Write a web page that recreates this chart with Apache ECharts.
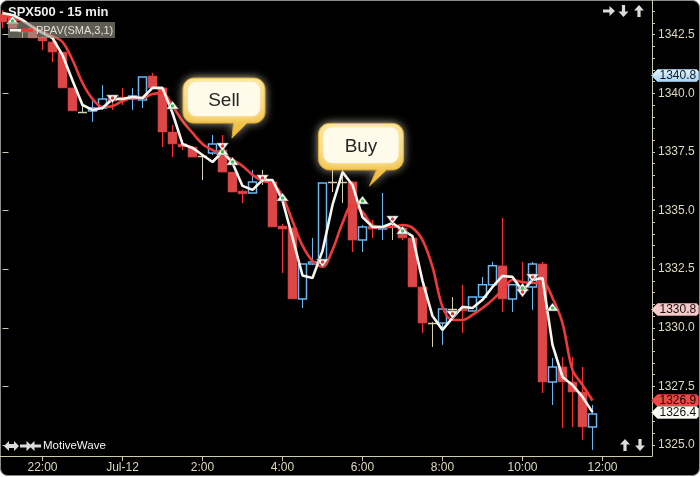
<!DOCTYPE html>
<html><head><meta charset="utf-8">
<script src="https://cdn.jsdelivr.net/npm/echarts@6/dist/echarts.min.js"></script>
<style>html,body{margin:0;padding:0;background:#fff}#main{width:700px;height:477px}</style>
</head><body><div id="main"></div>
<script>
// ---------- DATA ----------
const times = ['21:00','21:15','21:30','21:45','22:00','22:15','22:30','22:45','23:00','23:15','23:30','23:45',
 '00:00','00:15','00:30','00:45','01:00','01:15','01:30','01:45','02:00','02:15','02:30','02:45',
 '03:00','03:15','03:30','03:45','04:00','04:15','04:30','04:45','05:00','05:15','05:30','05:45',
 '06:00','06:15','06:30','06:45','07:00','07:15','07:30','07:45','08:00','08:15','08:30','08:45',
 '09:00','09:15','09:30','09:45','10:00','10:15','10:30','10:45','11:00','11:15','11:30','11:45'];
const opens = [1343.38,1343.30,1342.66,1342.78,1342.40,1342.19,1341.76,1340.23,1339.20,1339.25,1339.37,1339.80,
 1339.84,1339.76,1339.71,1340.74,1340.23,1338.35,1337.84,1337.71,1337.33,1337.45,1337.58,1336.64,
 1335.83,1335.75,1336.39,1336.22,1334.34,1334.26,1331.23,1332.72,1332.76,1336.22,1336.22,1336.22,
 1333.74,1334.34,1334.21,1334.34,1334.26,1333.83,1331.74,1330.20,1330.20,1330.80,1330.80,1330.72,
 1331.31,1331.83,1332.64,1331.23,1331.74,1331.74,1332.72,1327.69,1328.33,1327.69,1327.26,1325.77];
const closes = [1343.04,1342.78,1342.66,1342.36,1342.23,1341.76,1340.23,1339.25,1339.20,1339.37,1339.76,1339.67,
 1339.71,1339.88,1340.70,1340.23,1338.35,1337.84,1337.71,1337.28,1337.33,1337.84,1336.64,1335.79,
 1335.71,1336.22,1336.39,1334.30,1334.21,1331.23,1332.72,1332.81,1336.17,1336.22,1336.22,1333.74,
 1334.30,1334.21,1334.30,1334.34,1333.83,1331.74,1330.20,1330.20,1330.80,1330.80,1330.72,1331.31,
 1331.83,1332.64,1331.23,1331.83,1331.66,1332.72,1327.69,1328.33,1327.69,1327.26,1325.77,1326.32];
const lows = [1342.78,1342.70,1342.36,1342.36,1341.85,1341.33,1340.23,1339.25,1339.16,1338.78,1339.29,1339.29,
 1339.50,1339.29,1339.37,1340.18,1337.71,1337.28,1337.58,1337.28,1336.30,1337.37,1336.64,1335.79,
 1335.32,1335.75,1336.09,1334.30,1332.34,1331.23,1330.84,1332.68,1332.68,1335.79,1335.32,1333.23,
 1333.23,1333.83,1333.74,1333.74,1333.74,1331.74,1329.78,1329.18,1329.27,1330.33,1329.78,1330.72,
 1331.27,1331.78,1330.67,1330.67,1331.31,1330.76,1327.22,1326.71,1325.73,1325.77,1325.22,1324.79];
const highs = [1343.55,1343.38,1342.74,1342.83,1342.44,1342.23,1341.76,1340.23,1339.50,1339.71,1340.35,1339.88,
 1340.23,1340.23,1340.70,1340.87,1340.23,1338.65,1338.01,1337.75,1337.41,1338.22,1338.22,1336.64,
 1335.88,1336.73,1336.73,1336.30,1334.43,1334.26,1332.72,1333.83,1336.17,1336.73,1336.73,1336.26,
 1334.38,1334.60,1335.75,1334.68,1334.30,1333.83,1331.78,1330.25,1330.80,1331.31,1331.83,1331.31,
 1332.17,1332.81,1334.68,1331.87,1332.81,1332.81,1332.81,1328.71,1328.75,1328.75,1328.33,1326.71];
// PPAV fast (white) and slow (red) lines
const fastLine = [1343.42,1343.34,1343.13,1342.83,1342.57,1342.36,1341.63,1340.55,1339.50,1339.29,
 1339.37,1339.76,1339.76,1339.84,1339.80,1340.23,1340.23,1339.16,1337.84,1337.67,
 1337.37,1337.07,1337.50,1337.03,1336.05,1335.88,1336.30,1336.30,1335.42,1333.85,
 1332.23,1332.12,1333.28,1335.24,1336.64,1336.09,1334.72,1334.30,1334.30,1334.47,
 1334.17,1333.91,1332.00,1330.50,1329.91,1330.42,1330.89,1330.84,1331.19,1331.74,
 1332.21,1332.17,1331.57,1332.04,1332.12,1329.27,1327.90,1327.56,1327.05,1326.40];
const slowLine = [1343.34,1343.21,1343.08,1342.83,1342.61,1342.44,1342.19,1341.42,1340.44,1339.76,
 1339.42,1339.46,1339.67,1339.80,1339.80,1339.97,1340.01,1339.46,1338.82,1338.31,
 1337.84,1337.58,1337.41,1337.16,1336.90,1336.52,1336.26,1336.17,1335.60,1334.55,
 1333.50,1332.85,1332.60,1333.32,1334.47,1335.24,1334.94,1334.38,1334.30,1334.30,
 1334.38,1334.26,1333.74,1332.60,1330.89,1330.33,1330.33,1330.55,1330.84,1331.19,
 1331.61,1332.04,1331.95,1331.91,1331.95,1331.27,1330.20,1328.20,1327.56,1326.90];
// signal markers: [bar index, price]
const upSignals = [[1,1343.13],[17,1339.50],[22,1337.54],[23,1337.11],[28,1335.58],[36,1335.45],[40,1334.17],[52,1331.74],[55,1330.89]];
const downSignals = [[11,1339.76],[22,1337.71],[26,1336.35],[32,1332.76],[39,1334.60],[45,1330.55],[52,1331.48],[53,1332.12]];
// callouts: text, bar index of tip, price of tip
const calloutTexts = ['Sell','Buy'];
const calloutBars = [22.95, 36.7];
const calloutPrices = [1338.09, 1336.05];
// axis labels
const tickTimes = ['22:00','00:00','02:00','04:00','06:00','08:00','10:00','12:00'];
const tickLabels = ['22:00','Jul-12','2:00','4:00','6:00','8:00','10:00','12:00'];
const yLabels = [1325.0,1327.5,1330.0,1332.5,1335.0,1337.5,1340.0,1342.5];
const priceTags = [1340.8,1330.8,1326.9,1326.4];

// ---------- HELPERS ----------
const FONT = '"Liberation Sans", Arial, sans-serif';
const AXC = '#cfc9ab', LBC = '#ddd8bc';
const toMin = t => { const [h,m] = t.split(':').map(Number); return h*60+m; };
const barOf = t => ((toMin(t) - toMin(times[0]) + 1440) % 1440) / 15;
const tickBars = tickTimes.map(barOf);
const xMin = -0.25, xMax = 64.95, yMin = 1324.53, yMax = 1343.98;
const minorTicks = []; for (let v = 1325; v <= 1343.5; v += 0.5) minorTicks.push(+v.toFixed(1));
const candleData = times.map((t,i) => [i, opens[i], closes[i], lows[i], highs[i]]);

function renderCandle(params, api) {
  const k = api.value(0), o = api.value(1), c = api.value(2), lo = api.value(3), hi = api.value(4);
  const pO = api.coord([k,o]), pC = api.coord([k,c]);
  const yL = api.coord([k,lo])[1], yH = api.coord([k,hi])[1];
  const cx = Math.floor(pO[0]) + 0.5;
  const yT = Math.min(pO[1],pC[1]), yB = Math.max(pO[1],pC[1]);
  const ch = [];
  if (c < o) {
    ch.push({type:'line', shape:{x1:cx,y1:yH,x2:cx,y2:yL}, style:{stroke:'#ff2e2e',lineWidth:1}});
    ch.push({type:'rect', shape:{x:cx-4.5,y:yT,width:9,height:Math.max(1.5,yB-yT)}, style:{fill:'#de4747',stroke:'#c93b3b',lineWidth:0.6}});
  } else if (c > o) {
    ch.push({type:'line', shape:{x1:cx,y1:yH,x2:cx,y2:yL}, style:{stroke:'#69b8f2',lineWidth:1}});
    ch.push({type:'rect', shape:{x:cx-4,y:yT,width:8,height:Math.max(1.5,yB-yT)}, style:{fill:'#000',stroke:'#69b8f2',lineWidth:1.5}});
  } else {
    const y = Math.round(yT)+0.5;
    ch.push({type:'line', shape:{x1:cx,y1:yH,x2:cx,y2:yL}, style:{stroke:'#d6d0b0',lineWidth:1}});
    ch.push({type:'line', shape:{x1:cx-4.5,y1:y,x2:cx+4.5,y2:y}, style:{stroke:'#d6d0b0',lineWidth:1.5}});
  }
  return {type:'group', children:ch};
}

const tagStyles = [
  {fill:{type:'linear',x:0,y:0,x2:0,y2:1,colorStops:[{offset:0,color:'#e4f3fc'},{offset:1,color:'#a9d3f0'}]}, text:'#0e1a24', stroke:'#8fb8d4'},
  {fill:'#f3c9c9', text:'#1e1010', stroke:'#c99a9a'},
  {fill:'#f04646', text:'#140404', stroke:'#c83030'},
  {fill:'#fbfbf5', text:'#111', stroke:'#bbb'}
];
function renderTag(params, api) {
  const p = api.coord([api.value(0), api.value(1)]);
  const x = Math.round(p[0]) - 0.5, y = Math.round(p[1]) + 0.5;
  const st = tagStyles[params.dataIndex];
  return {type:'group', children:[
    {type:'polygon', shape:{points:[[x,y],[x+6,y-6],[x+45,y-6],[x+47,y-4],[x+47,y+4],[x+45,y+6],[x+6,y+6]]}, style:{fill:st.fill,stroke:st.stroke,lineWidth:0.8}},
    {type:'text', x:x+8, y:y, style:{text:api.value(1).toFixed(1), fill:st.text, font:'12px '+FONT, verticalAlign:'middle', align:'left'}}
  ]};
}

function arrowPts(cx, cy, angle) {
  const base = [[0,-6],[5,-0.5],[1.6,-0.5],[1.6,6],[-1.6,6],[-1.6,-0.5],[-5,-0.5]];
  const a = angle*Math.PI/180, ca = Math.cos(a), sa = Math.sin(a);
  return base.map(([px,py]) => [cx + px*ca - py*sa, cy + px*sa + py*ca]);
}
const arrowEl = (id, cx, cy, ang) => ({id, type:'polygon', z:100, shape:{points:arrowPts(cx,cy,ang)}, style:{fill:'#dcdcdc'}});

const baseGraphics = [
  {id:'bg', type:'rect', z:-100, shape:{x:0.5,y:0.5,width:699,height:475,r:7}, style:{fill:'#000',stroke:'#8a8a8a',lineWidth:1}},
  {id:'title', type:'text', z:100, x:8, y:5.5, style:{text:'SPX500 - 15 min', font:'bold 13px '+FONT, fill:'#ececec'}},
  {id:'legbox', type:'rect', z:100, shape:{x:8,y:22,width:107,height:16}, style:{fill:'rgba(150,150,135,0.62)'}},
  {id:'legw', type:'rect', z:101, shape:{x:10,y:29,width:11,height:2.5}, style:{fill:'#f5f5ee'}},
  {id:'legr', type:'rect', z:101, shape:{x:21,y:28.5,width:12,height:3.5}, style:{fill:'#f03a3a'}},
  {id:'legt', type:'text', z:101, x:36, y:30.5, style:{text:'PPAV(SMA,3,1)', font:'11px '+FONT, fill:'#e2dfd2', verticalAlign:'middle'}},
  arrowEl('ar1', 609, 11, 90), arrowEl('ar2', 623.5, 11, 180), arrowEl('ar3', 639, 11, 0),
  arrowEl('ar4', 625, 445, 0), arrowEl('ar5', 640, 445, 180),
  {id:'dbl', type:'polygon', z:100, shape:{points:[[4,446],[9,441],[9,444],[14,444],[14,441],[19,446],[14,451],[14,448],[9,448],[9,451]]}, style:{fill:'#dcdcdc'}},
  arrowEl('ar6', 26, 446, 90), arrowEl('ar7', 35, 446, 270),
  {id:'mw', type:'text', z:100, x:43, y:446, style:{text:'MotiveWave', font:'11.5px '+FONT, fill:'#f2f2f2', verticalAlign:'middle'}}
];

const bubbleGeom = [
  {left:-49, top:-60, w:82, h:45, t1:1.5, t2:15},
  {left:-51, top:-62.5, w:85, h:46.5, t1:7, t2:17}
];
function arcPts(cx, cy, r, a0, a1) {
  const out = [];
  for (let s = 0; s <= 8; s++) { const a = (a0 + (a1-a0)*s/8) * Math.PI/180; out.push([cx + r*Math.cos(a), cy + r*Math.sin(a)]); }
  return out;
}
function bubble(i, tx, ty) {
  const g = bubbleGeom[i];
  const L = tx+g.left, T = ty+g.top, W = g.w, H = g.h, r = 11, B = T+H;
  const pts = [].concat(
    arcPts(L+W-r, T+r, r, -90, 0),
    arcPts(L+W-r, B-r, r, 0, 90),
    [[tx+g.t2, B], [tx, ty], [tx+g.t1, B]],
    arcPts(L+r, B-r, r, 90, 180),
    arcPts(L+r, T+r, r, 180, 270)
  );
  return [
    {id:'bo'+i, type:'polygon', z:200, shape:{points:pts}, style:{fill:{type:'linear',x:0,y:0,x2:0,y2:1,colorStops:[{offset:0,color:'#fbe390'},{offset:1,color:'#efb62c'}]}, stroke:'#d9a42c', lineWidth:1, shadowBlur:10, shadowColor:'rgba(235,225,195,0.6)'}},
    {id:'bi'+i, type:'rect', z:201, shape:{x:L+5,y:T+4,width:W-10,height:H-11,r:8}, style:{fill:'#fffbea', shadowBlur:8, shadowColor:'#fff6d2'}},
    {id:'bt'+i, type:'text', z:202, x:L+W/2, y:T+H/2, style:{text:calloutTexts[i], font:'19px '+FONT, fill:'#262626', align:'center', verticalAlign:'middle'}}
  ];
}

// ---------- CHART ----------
const chart = echarts.init(document.getElementById('main'), null, {renderer:'canvas'});
const markStyle = {color:'#ffffff',borderColor:'#6a6a6a',borderWidth:0.6,opacity:1};
const option = {
  animation:false,
  backgroundColor:'#ffffff',
  grid:{left:0, right:48, top:0, bottom:21, containLabel:false},
  xAxis:{type:'value', min:xMin, max:xMax, position:'bottom',
    axisLine:{show:true, onZero:false, lineStyle:{color:AXC,width:1}},
    axisTick:{show:true, customValues:tickBars, length:5, lineStyle:{color:AXC}},
    axisLabel:{customValues:tickBars, formatter:v => tickLabels[tickBars.indexOf(v)] || '', color:LBC, fontSize:12, fontFamily:FONT, margin:6},
    splitLine:{show:false}},
  yAxis:[
    {type:'value', min:yMin, max:yMax, position:'right',
     axisLine:{show:true, onZero:false, lineStyle:{color:AXC,width:1}},
     axisTick:{show:true, customValues:minorTicks, length:3, lineStyle:{color:AXC}},
     axisLabel:{customValues:yLabels, formatter:v => v.toFixed(1), color:LBC, fontSize:12, fontFamily:FONT, margin:6},
     splitLine:{show:false}},
    {type:'value', min:yMin, max:yMax, position:'right',
     axisLine:{show:false}, axisTick:{show:true, customValues:yLabels, length:6, lineStyle:{color:AXC}},
     axisLabel:{show:false}, splitLine:{show:false}}
  ],
  series:[
    {type:'custom', name:'SPX500', renderItem:renderCandle, data:candleData, encode:{x:0,y:[1,2,3,4]}, clip:true, z:2},
    {type:'line', name:'PPAV slow', data:slowLine.map((v,i)=>[i,v]), symbol:'none', smooth:0.35, lineStyle:{color:'#f03a3a',width:2.6}, z:3},
    {type:'line', name:'PPAV fast', data:fastLine.map((v,i)=>[i,v]), symbol:'none', lineStyle:{color:'#f6f5ee',width:2.6}, z:3},
    {type:'scatter', data:upSignals, symbol:'triangle', symbolSize:[12,8], itemStyle:markStyle, z:4},
    {type:'scatter', data:downSignals, symbol:'triangle', symbolRotate:180, symbolSize:[12,8], itemStyle:markStyle, z:4},
    {type:'scatter', data:upSignals, symbol:'circle', symbolSize:3.5, symbolOffset:[0,1], itemStyle:{color:'#2ccc2c',opacity:1}, z:5},
    {type:'scatter', data:downSignals, symbol:'circle', symbolSize:3.5, symbolOffset:[0,-1], itemStyle:{color:'#ff2a2a',opacity:1}, z:5},
    {type:'custom', renderItem:renderTag, data:priceTags.map(v=>[xMax,v]), encode:{x:0,y:1}, clip:false, z:6, silent:true}
  ],
  graphic:{elements:baseGraphics}
};
chart.setOption(option);
const extra = [];
calloutTexts.forEach((t,i) => {
  const p = chart.convertToPixel({xAxisIndex:0, yAxisIndex:0}, [calloutBars[i], calloutPrices[i]]);
  extra.push(...bubble(i, p[0], p[1]));
});
chart.setOption({graphic:{elements:baseGraphics.concat(extra)}});
</script></body></html>
